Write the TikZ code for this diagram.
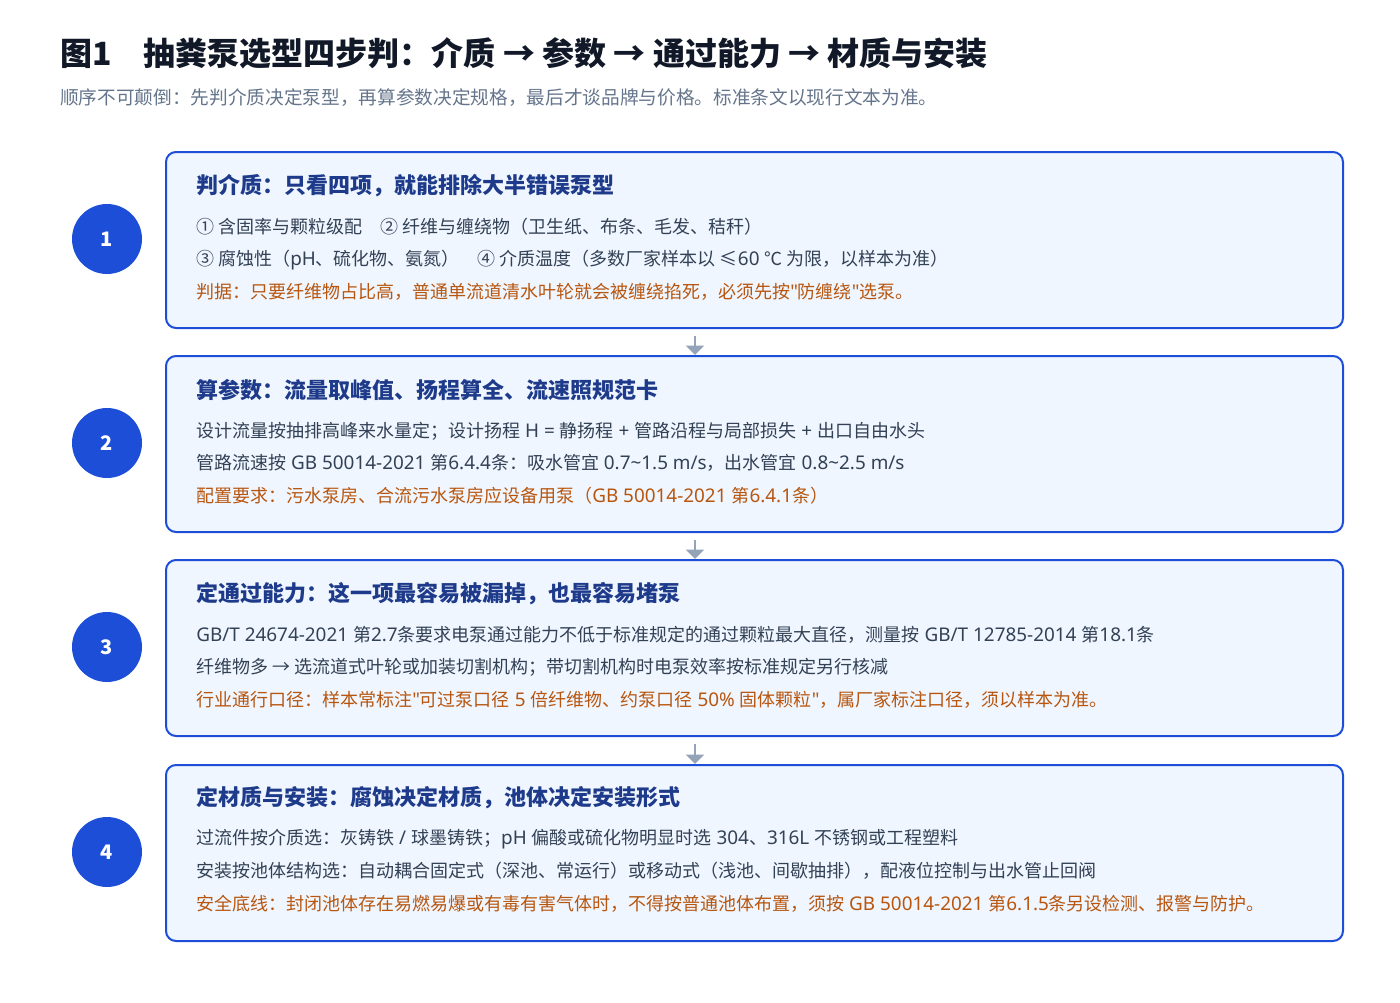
\documentclass[tikz,border=0pt]{standalone}
\usepackage{fontspec}
\setmainfont{Noto Sans CJK SC}
\newfontfamily\latinfont{Noto Sans}[Scale=1.05]
\newcommand{\en}[1]{{\latinfont #1}}
\usetikzlibrary{arrows.meta,positioning}

\definecolor{stepblue}{HTML}{1D4ED8}
\definecolor{stepfill}{HTML}{EFF6FF}
\definecolor{headblue}{HTML}{1E3A8A}
\definecolor{bodygray}{HTML}{334155}
\definecolor{noteorange}{HTML}{B8560F}
\definecolor{titleink}{HTML}{111827}
\definecolor{subgray}{HTML}{64748B}
\definecolor{arrowgray}{HTML}{94A3B8}

\tikzset{
  stepcard/.style={draw=stepblue, line width=1.5pt, fill=stepfill, rounded corners=7.5pt,
    minimum width=882.75pt, minimum height=132pt, anchor=north west, inner sep=0pt},
  stepdot/.style={circle, fill=stepblue, minimum size=52.5pt, inner sep=0pt,
    text=white, font=\fontsize{15pt}{18pt}\selectfont\bfseries},
  cardhead/.style={anchor=west, inner sep=0pt, text=headblue,
    font=\fontsize{16.5pt}{20pt}\selectfont\bfseries},
  cardline/.style={anchor=west, inner sep=0pt, text=bodygray,
    font=\fontsize{13.5pt}{16pt}\selectfont},
  cardnote/.style={cardline, text=noteorange},
  flowarrow/.style={draw=arrowgray, line width=2pt, -{Triangle[width=13.5pt,length=7pt]}}
}

\begin{document}
\begin{tikzpicture}[x=0.75pt, y=-0.75pt]
    \useasboundingbox (0,0) rectangle (1400,1003);

    % Title
    \node[anchor=west, inner sep=0pt, text=titleink, font=\fontsize{24pt}{28pt}\selectfont\bfseries] (title) at (60,53)
        {图1\quad 抽粪泵选型四步判：介质 → 参数 → 通过能力 → 材质与安装};
    \node[anchor=west, inner sep=0pt, text=subgray, font=\fontsize{14pt}{17pt}\selectfont] (subtitle) at (60,98)
        {顺序不可颠倒：先判介质决定泵型，再算参数决定规格，最后才谈品牌与价格。标准条文以现行文本为准。};

    % Cards
    \node[stepcard] (b1) at (165,151) {};
    \node[stepcard] (b2) at (165,355) {};
    \node[stepcard] (b3) at (165,559) {};
    \node[stepcard] (b4) at (165,764) {};

    % Step numbers
    \node[stepdot] (n1) at (107,239) {1};
    \node[stepdot] (n2) at (107,443) {2};
    \node[stepdot] (n3) at (107,647) {3};
    \node[stepdot] (n4) at (107,852) {4};

    % Step 1
    \node[cardhead] (h1) at (196,186) {判介质：只看四项，就能排除大半错误泵型};
    \node[cardline] (l1a) at (196,227) {① 含固率与颗粒级配\quad ② 纤维与缠绕物（卫生纸、布条、毛发、秸秆）};
    \node[cardline] (l1b) at (196,260) {③ 腐蚀性（\en{pH}、硫化物、氨氮）\quad ④ 介质温度（多数厂家样本以 ≤\en{60 }℃ 为限，以样本为准）};
    \node[cardnote] (l1c) at (196,292) {判据：只要纤维物占比高，普通单流道清水叶轮就会被缠绕掐死，必须先按\en{\textquotedbl}防缠绕\en{\textquotedbl}选泵。};

    % Step 2
    \node[cardhead] (h2) at (196,390) {算参数：流量取峰值、扬程算全、流速照规范卡};
    \node[cardline] (l2a) at (196,431) {设计流量按抽排高峰来水量定；设计扬程\en{ H = }静扬程\en{ + }管路沿程与局部损失\en{ + }出口自由水头};
    \node[cardline] (l2b) at (196,463) {管路流速按\en{ GB 50014-2021 }第\en{6.4.4}条：吸水管宜\en{ 0.7\textasciitilde 1.5 m/s}，出水管宜\en{ 0.8\textasciitilde 2.5 m/s}};
    \node[cardnote] (l2c) at (196,496) {配置要求：污水泵房、合流污水泵房应设备用泵（\en{GB 50014-2021 }第\en{6.4.1}条）};

    % Step 3
    \node[cardhead] (h3) at (196,594) {定通过能力：这一项最容易被漏掉，也最容易堵泵};
    \node[cardline] (l3a) at (196,635) {\en{GB/T 24674-2021 }第\en{2.7}条要求电泵通过能力不低于标准规定的通过颗粒最大直径，测量按\en{ GB/T 12785-2014 }第\en{18.1}条};
    \node[cardline] (l3b) at (196,667) {纤维物多 → 选流道式叶轮或加装切割机构；带切割机构时电泵效率按标准规定另行核减};
    \node[cardnote] (l3c) at (196,700) {行业通行口径：样本常标注\en{\textquotedbl}可过泵口径\en{ 5 }倍纤维物、约泵口径\en{ 50\% }固体颗粒\en{\textquotedbl}，属厂家标注口径，须以样本为准。};

    % Step 4
    \node[cardhead] (h4) at (196,798) {定材质与安装：腐蚀决定材质，池体决定安装形式};
    \node[cardline] (l4a) at (196,839) {过流件按介质选：灰铸铁\en{ / }球墨铸铁；\en{pH }偏酸或硫化物明显时选\en{ 304}、\en{316L }不锈钢或工程塑料};
    \node[cardline] (l4b) at (196,871) {安装按池体结构选：自动耦合固定式（深池、常运行）或移动式（浅池、间歇抽排），配液位控制与出水管止回阀};
    \node[cardnote] (l4c) at (196,904) {安全底线：封闭池体存在易燃易爆或有毒有害气体时，不得按普通池体布置，须按\en{ GB 50014-2021 }第\en{6.1.5}条另设检测、报警与防护。};

    % Flow arrows between cards
    \coordinate (a1) at (695,336);
    \coordinate (a2) at (695,540);
    \coordinate (a3) at (695,744);
    \draw[flowarrow] (a1) -- (b2.north -| a1);
    \draw[flowarrow] (a2) -- (b3.north -| a2);
    \draw[flowarrow] (a3) -- (b4.north -| a3);
\end{tikzpicture}
\end{document}
